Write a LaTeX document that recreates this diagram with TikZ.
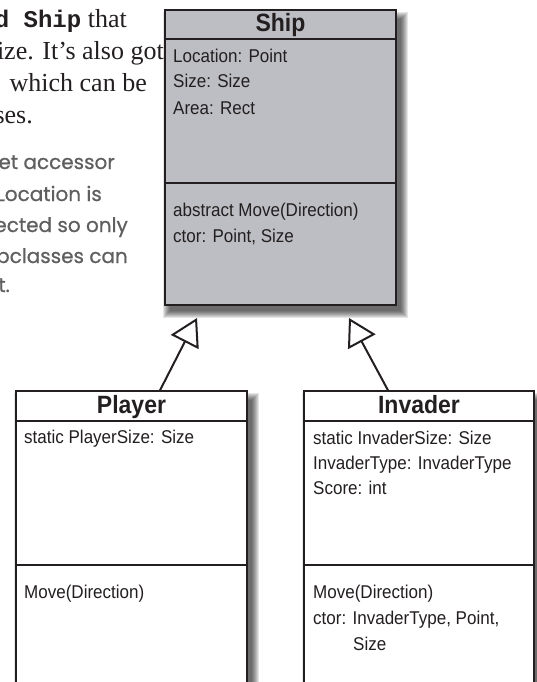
\documentclass[tikz,border=0pt]{standalone}
\usepackage{fontspec}
\setmainfont{Liberation Serif}
\newfontfamily\umlfont[FakeStretch=0.92]{Liberation Sans}
\newfontfamily\codefont{Liberation Mono}
\newfontfamily\handfont[FakeBold=0.7]{Poppins}
\usetikzlibrary{arrows.meta,calc}
\definecolor{shipgray}{RGB}{189,190,195}
\definecolor{handgray}{RGB}{95,95,95}
\definecolor{lineblack}{RGB}{35,31,32}
\pgfdeclarelayer{bg}
\pgfsetlayers{bg,main}
\newcommand\softshadow[1]{%
  \begin{pgfonlayer}{bg}
  \foreach \e in {0,1,...,7}{%
    \fill[black,opacity=0.1] ($(#1.north west)+(6-\e,10-\e)$) rectangle ($(#1.south east)+(4+\e,5+\e)$);
  }
  \end{pgfonlayer}}
\tikzset{
  classbox/.style={draw=lineblack, line width=1.4pt, inner sep=0pt},
  shipbox/.style={classbox, fill=shipgray},
  plainbox/.style={classbox, fill=white},
  classtitle/.style={font=\umlfont\bfseries\fontsize{25}{28}\selectfont, inner sep=0pt, anchor=base, text=lineblack},
  member/.style={font=\umlfont\fontsize{18.5}{22}\selectfont, inner sep=0pt, anchor=base west, text=lineblack},
  divider/.style={draw=lineblack, line width=1.4pt},
  gen/.style={draw=lineblack, line width=2pt, -{Triangle[fill=white, length=27pt, width=31pt]}},
  prose/.style={font=\fontsize{26}{32}\selectfont, inner sep=0pt, anchor=base east, text=lineblack},
  hand/.style={font=\handfont\fontsize{20}{24}\selectfont, inner sep=0pt, anchor=base east, text=handgray},
}
\begin{document}
\begin{tikzpicture}[x=1pt,y=-1pt]
\useasboundingbox (0,0) rectangle (536,682);
\clip (0,0) rectangle (536,682);

% prose text (cropped at left)
\node[prose] (p1) at (127,28) {{\codefont\bfseries\fontsize{24}{30}\selectfont d Ship} that};
\node[prose] (p2) at (164,60) {ize. It’s also got};
\node[prose] (p3) at (147,92) {which can be};
\node[prose] (p4) at (33,124) {ses.};

% handwritten note
\node[hand] (h1) at (115,169) {et accessor};
\node[hand] (h2) at (102,201) {Location is};
\node[hand] (h3) at (128,232) {ected so only};
\node[hand] (h4) at (128,263) {ubclasses can};
\node[hand] (h5) at (10,292) {t.};

% Ship
\node[shipbox, minimum width=231pt, minimum height=295pt] (ship) at (280.5,157.5) {};
\softshadow{ship}
\draw[divider] (ship.west |- 0,39) -- (ship.east |- 0,39);
\draw[divider] (ship.west |- 0,183) -- (ship.east |- 0,183);
\node[classtitle] (shipT) at (280.5,32) {Ship};
\node[member] (s1) at (173,63) {Location: Point};
\node[member] (s2) at (173,88) {Size: Size};
\node[member] (s3) at (173,114) {Area: Rect};
\node[member] (s4) at (173,216) {abstract Move(Direction)};
\node[member] (s5) at (173,242) {ctor: Point, Size};

% Player
\node[plainbox, minimum width=231pt, minimum height=330pt] (player) at (131.5,556) {};
\softshadow{player}
\draw[divider] (player.west |- 0,421) -- (player.east |- 0,421);
\draw[divider] (player.west |- 0,565) -- (player.east |- 0,565);
\node[classtitle] (playerT) at (131.5,413) {Player};
\node[member] (pl1) at (24,443) {static PlayerSize: Size};
\node[member] (pl2) at (24,598) {Move(Direction)};

% Invader
\node[plainbox, minimum width=230pt, minimum height=330pt] (invader) at (419,556) {};
\softshadow{invader}
\draw[divider] (invader.west |- 0,421) -- (invader.east |- 0,421);
\draw[divider] (invader.west |- 0,565) -- (invader.east |- 0,565);
\node[classtitle] (invaderT) at (419,413) {Invader};
\node[member] (i1) at (313,444) {static InvaderSize: Size};
\node[member] (i2) at (313,469) {InvaderType: InvaderType};
\node[member] (i3) at (313,494) {Score: int};
\node[member] (i4) at (313,598) {Move(Direction)};
\node[member] (i5) at (313,624) {ctor: InvaderType, Point,};
\node[member] (i6) at (353,650) {Size};

% generalization arrows
\coordinate (tipL) at (197,318);
\coordinate (tipR) at (349,318);
\draw[gen] ($(player.north)+(28.5,0)$) -- (tipL);
\draw[gen] ($(invader.north)+(-31,0)$) -- (tipR);
\end{tikzpicture}
\end{document}
